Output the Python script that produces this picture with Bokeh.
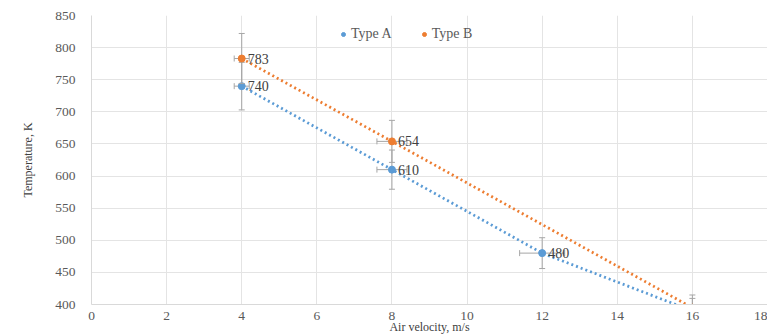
from bokeh.plotting import figure
from bokeh.models import ColumnDataSource, Legend, LegendItem, FixedTicker, Range1d
from bokeh.core.properties import value
from bokeh.embed import file_html
from bokeh.resources import INLINE
import math

# ---- data ----
x_ticks = [0, 2, 4, 6, 8, 10, 12, 14, 16, 18]
y_ticks = [400, 450, 500, 550, 600, 650, 700, 750, 800, 850]

a_x = [4, 8, 12, 16]
a_y = [740, 610, 480, 390]
a_yerr = [37, 30.5, 24, 19.5]
a_xerr = [0.2, 0.4, 0.6, 0.8]

b_x = [4, 8, 16]
b_y = [783, 654, 395]
b_yerr = [39, 32.7, 19.8]
b_xerr = [0.2, 0.4, 0.8]

series_names = ["Type A", "Type B"]
colors = ["#5B9BD5", "#ED7D31"]
x_title = "Air velocity, m/s"
y_title = "Temperature, K"

FONT = "'Liberation Serif', 'Times New Roman', serif"

p = figure(width=767, height=336, output_backend="svg", toolbar_location=None,
           x_range=Range1d(0, 18), y_range=Range1d(400, 850),
           min_border_left=91, min_border_right=0, min_border_top=15, min_border_bottom=0)
p.outline_line_color = None
p.background_fill_color = "white"

for ax in (p.xaxis[0], p.yaxis[0]):
    ax.major_tick_line_color = None
    ax.minor_tick_line_color = None
    ax.axis_line_color = "#D9D9D9"
    ax.major_label_text_font = FONT
    ax.major_label_text_font_size = "13.5px"
    ax.major_label_text_color = "#595959"
    ax.axis_label_text_font = FONT
    ax.axis_label_text_font_size = "12px"
    ax.axis_label_text_font_style = "normal"
    ax.axis_label_text_color = "#404040"

p.xaxis.ticker = FixedTicker(ticks=x_ticks)
p.yaxis.ticker = FixedTicker(ticks=y_ticks)
p.xaxis.axis_label = x_title
p.yaxis.axis_label = y_title
p.xaxis.major_label_standoff = 1
p.xaxis.axis_label_standoff = -3
p.yaxis.major_label_standoff = 10
p.yaxis.axis_label_standoff = 17
p.xgrid.ticker = FixedTicker(ticks=x_ticks)
p.ygrid.ticker = FixedTicker(ticks=y_ticks)
p.xgrid.grid_line_color = "#E4E4E4"
p.ygrid.grid_line_color = "#E4E4E4"

y_lo = p.y_range.start
legend_items = []
for name, color, xs, ys, yerr, xerr in [
    (series_names[0], colors[0], a_x, a_y, a_yerr, a_xerr),
    (series_names[1], colors[1], b_x, b_y, b_yerr, b_xerr),
]:
    src = ColumnDataSource(dict(
        x=xs, y=ys,
        ylo=[y - e for y, e in zip(ys, yerr)], yhi=[y + e for y, e in zip(ys, yerr)],
        xlo=[x - e for x, e in zip(xs, xerr)], xhi=[x + e for x, e in zip(xs, xerr)],
        lab=[str(v) if v >= y_lo else "" for v in ys],
    ))
    p.line("x", "y", source=src, line_color=color, line_width=2.75,
           line_dash="2 3", line_cap="butt")
    # error bars
    p.segment(x0="x", y0="ylo", x1="x", y1="yhi", source=src, line_color="#A6A6A6", line_width=1)
    p.segment(x0="xlo", y0="y", x1="xhi", y1="y", source=src, line_color="#A6A6A6", line_width=1)
    p.scatter("x", "ylo", source=src, marker="dash", size=6, line_color="#A6A6A6")
    p.scatter("x", "yhi", source=src, marker="dash", size=6, line_color="#A6A6A6")
    p.scatter("xlo", "y", source=src, marker="dash", angle=math.pi / 2, size=6, line_color="#A6A6A6")
    p.scatter("xhi", "y", source=src, marker="dash", angle=math.pi / 2, size=6, line_color="#A6A6A6")
    r = p.scatter("x", "y", source=src, size=7, fill_color=color, line_color=color)
    p.text("x", "y", text="lab", source=src, x_offset=6, text_baseline="middle",
           text_font=value(FONT), text_font_size="14px", text_color="#404040")
    legend_items.append(LegendItem(label=name, renderers=[r]))

legend = Legend(items=legend_items, orientation="horizontal", location=(247, 262),
                background_fill_alpha=0, border_line_color=None,
                label_text_font=FONT, label_text_font_size="14px", label_text_color="#595959",
                glyph_width=10, glyph_height=10, label_standoff=3, spacing=27, padding=0, margin=0)
p.add_layout(legend, "center")

open("out.html", "w").write(file_html(p, INLINE))
